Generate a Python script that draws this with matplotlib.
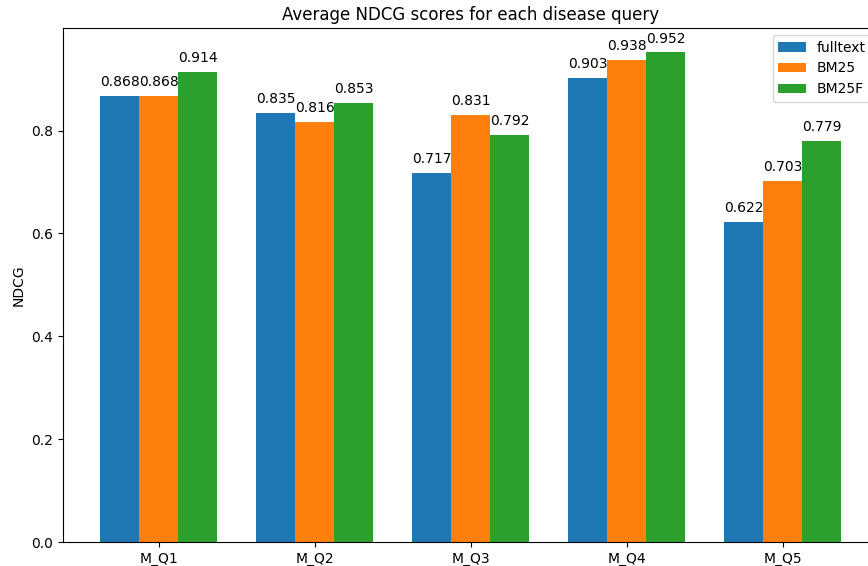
import matplotlib.pyplot as plt
import numpy as np

queries = ['M_Q1', 'M_Q2', 'M_Q3', 'M_Q4', 'M_Q5']
fulltext = [0.868, 0.835, 0.717, 0.903, 0.622]
bm25 = [0.868, 0.816, 0.831, 0.938, 0.703]
bm25f = [0.914, 0.853, 0.792, 0.952, 0.779]

fig = plt.figure(figsize=(8.68, 5.66), dpi=100)
# axes run past the right edge, as in the cropped original
ax = fig.add_axes([63 / 868, 24 / 566, 815.5 / 868, 514 / 566])

x = np.arange(len(queries))
width = 0.25

r1 = ax.bar(x - width, fulltext, width, label='fulltext')
r2 = ax.bar(x, bm25, width, label='BM25')
r3 = ax.bar(x + width, bm25f, width, label='BM25F')

for r in (r1, r2, r3):
    ax.bar_label(r, padding=5)

ax.set_ylabel('NDCG')
ax.set_title('Average NDCG scores for each disease query')
ax.set_xticks(x)
ax.set_xticklabels(queries)
ax.legend(loc='upper right')

plt.savefig('out.png')
